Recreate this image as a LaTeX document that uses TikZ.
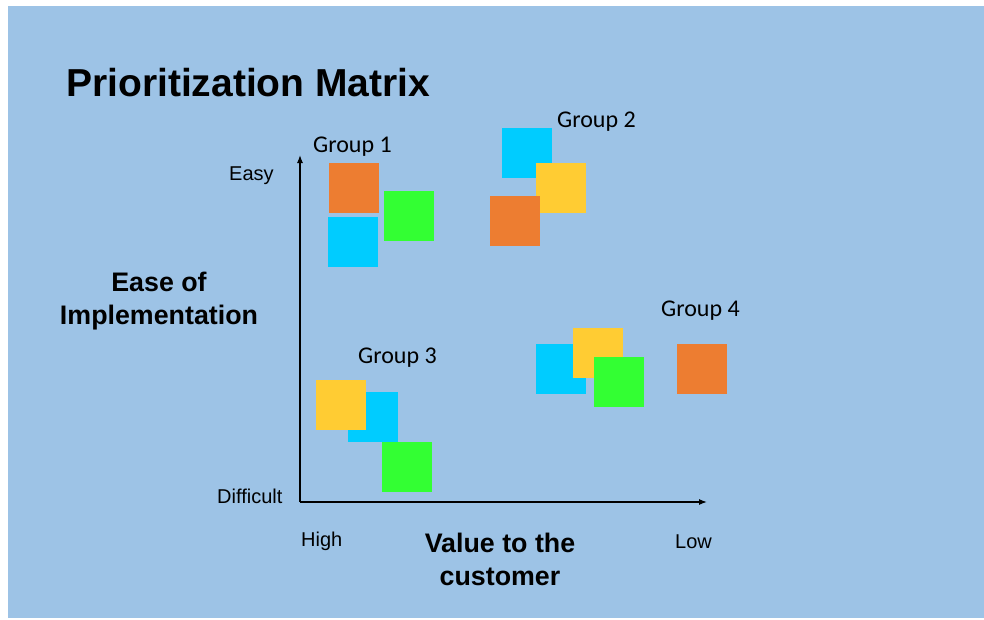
\documentclass[tikz,border=0pt]{standalone}
\usepackage{fontspec}
\setmainfont{Liberation Sans}
\newfontfamily\grpfont{Carlito}
\usetikzlibrary{arrows.meta}

\definecolor{panelblue}{HTML}{9DC3E6}
\definecolor{noteorange}{HTML}{ED7D31}
\definecolor{notecyan}{HTML}{00CCFF}
\definecolor{notegreen}{HTML}{33FF33}
\definecolor{noteyellow}{HTML}{FFCC33}

\tikzset{
    note/.style={rectangle,inner sep=0pt,minimum size=50pt,fill=#1},
    grouplabel/.style={anchor=base west,inner sep=0pt,font=\grpfont\fontsize{24}{28}\selectfont},
    ticklabel/.style={anchor=base west,inner sep=0pt,font=\fontsize{20}{24}\selectfont},
    axistitle/.style={anchor=base,inner sep=0pt,align=center,font=\fontsize{26.8}{33}\selectfont\bfseries},
}

\begin{document}
\begin{tikzpicture}[x=1pt,y=-1pt]
        \useasboundingbox (0,0) rectangle (984,619);
        \fill[panelblue] (8,6) rectangle (984,618);

        \node[anchor=base west,inner sep=0pt,font=\fontsize{39}{46}\selectfont\bfseries] (title) at (66,96) {Prioritization Matrix};

        % axes
        \coordinate (origin) at (300,502);
        \coordinate (ytip)   at (300,155);
        \coordinate (xtip)   at (707,502);
        \draw[line width=1.2pt,-{Latex[length=8pt,width=6pt]}] (origin) -- (ytip);
        \draw[line width=1.2pt,-{Latex[length=8pt,width=6pt]}] (origin) -- (xtip);

        \node[ticklabel] (easy)      at (229,180) {Easy};
        \node[ticklabel] (difficult) at (217,503) {Difficult};
        \node[ticklabel] (high)      at (301,546) {High};
        \node[ticklabel] (low)       at (675,548) {Low};

        % base of a two-line node sits on its last line
        \node[axistitle] (ease)  at (159,324) {Ease of\\Implementation};
        \node[axistitle] (value) at (500,585) {Value to the\\customer};

        % group 1
        \node[grouplabel] (g1) at (313,152) {Group 1};
        \node[note=noteorange] (g1a) at (354,188) {};
        \node[note=notegreen]  (g1b) at (409,216) {};
        \node[note=notecyan]   (g1c) at (353,242) {};

        % group 2
        \node[grouplabel] (g2) at (557,127) {Group 2};
        \node[note=notecyan]   (g2a) at (527,153) {};
        \node[note=noteyellow] (g2b) at (561,188) {};
        \node[note=noteorange] (g2c) at (515,221) {};

        % group 3
        \node[grouplabel] (g3) at (358,363) {Group 3};
        \node[note=notecyan]   (g3a) at (373,417) {};
        \node[note=noteyellow] (g3b) at (341,405) {};
        \node[note=notegreen]  (g3c) at (407,467) {};

        % group 4
        \node[grouplabel] (g4) at (661,316) {Group 4};
        \node[note=notecyan]   (g4a) at (561,369) {};
        \node[note=noteyellow] (g4b) at (598,353) {};
        \node[note=notegreen]  (g4c) at (619,382) {};
        \node[note=noteorange] (g4d) at (702,369) {};
    \end{tikzpicture}
\end{document}
